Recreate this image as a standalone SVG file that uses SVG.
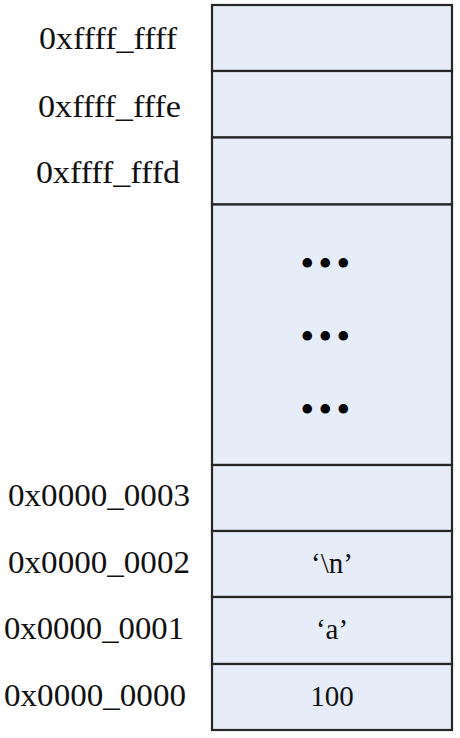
<svg xmlns="http://www.w3.org/2000/svg" width="460" height="738" viewBox="0 0 460 738">
<style>
.cell{fill:#e6edf8;stroke:#262626;stroke-width:2.2}
.addr{font-family:"Liberation Serif","Times New Roman",serif;font-size:31px;fill:#111}
.val{font-family:"Liberation Serif","Times New Roman",serif;font-size:29px;fill:#111;text-anchor:middle}
.dots{font-family:"Liberation Serif","Times New Roman",serif;font-size:40px;fill:#000;text-anchor:middle}
</style>
<rect width="460" height="738" fill="#ffffff"/>
<g id="cell-ffffffff">
<rect class="cell" x="212" y="5" width="240" height="66"/>
<text class="addr" x="39" y="49" textLength="138" lengthAdjust="spacingAndGlyphs">0xffff_ffff</text>
</g>
<g id="cell-fffffffe">
<rect class="cell" x="212" y="71" width="240" height="66.5"/>
<text class="addr" x="38" y="116.5" textLength="143" lengthAdjust="spacingAndGlyphs">0xffff_fffe</text>
</g>
<g id="cell-fffffffd">
<rect class="cell" x="212" y="137.5" width="240" height="67"/>
<text class="addr" x="36" y="183" textLength="144" lengthAdjust="spacingAndGlyphs">0xffff_fffd</text>
</g>
<g id="cell-gap">
<rect class="cell" x="212" y="204.5" width="240" height="260.5"/>
<text class="dots" x="307.3 325.3 343.3" y="277">•••</text>
<text class="dots" x="307.3 325.3 343.3" y="350">•••</text>
<text class="dots" x="307.3 325.3 343.3" y="423">•••</text>
</g>
<g id="cell-00000003">
<rect class="cell" x="212" y="465" width="240" height="66"/>
<text class="addr" x="8" y="506" textLength="182" lengthAdjust="spacingAndGlyphs">0x0000_0003</text>
</g>
<g id="cell-00000002">
<rect class="cell" x="212" y="531" width="240" height="66"/>
<text class="addr" x="8" y="572.5" textLength="182" lengthAdjust="spacingAndGlyphs">0x0000_0002</text>
<text class="val" x="332" y="573">‘\n’</text>
</g>
<g id="cell-00000001">
<rect class="cell" x="212" y="597" width="240" height="67"/>
<text class="addr" x="4" y="638.5" textLength="180" lengthAdjust="spacingAndGlyphs">0x0000_0001</text>
<text class="val" x="332" y="639">‘a’</text>
</g>
<g id="cell-00000000">
<rect class="cell" x="212" y="664" width="240" height="66"/>
<text class="addr" x="4" y="705.5" textLength="182" lengthAdjust="spacingAndGlyphs">0x0000_0000</text>
<text class="val" x="332" y="706">100</text>
</g>
<g id="connectors"></g>
</svg>
